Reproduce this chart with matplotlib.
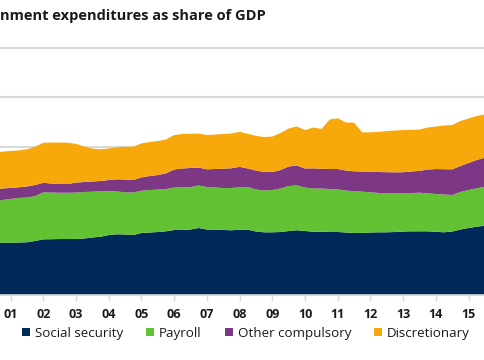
"""
stacked area chart of government expenditures as share of GDP, by component
"""
import numpy as np
import matplotlib.pyplot as plt
from matplotlib.patches import Patch

plt.rcParams['font.family'] = ['Open Sans', 'DejaVu Sans']

# quarterly observations, 2000 Q3 .. 2015 Q3 (percent of GDP)
quarters = np.arange(2000.5, 2015.51, 0.25)
social_security = [10.53, 10.59, 10.59, 10.63, 10.67, 10.93, 11.27, 11.29, 11.33, 11.33,
                   11.33, 11.44, 11.64, 11.80, 12.14, 12.29, 12.25, 12.14, 12.55, 12.65,
                   12.75, 12.89, 13.16, 13.16, 13.26, 13.56, 13.26, 13.22, 13.16, 13.10,
                   13.22, 13.22, 12.85, 12.69, 12.69, 12.75, 12.95, 13.10, 12.95, 12.81,
                   12.79, 12.75, 12.75, 12.65, 12.55, 12.59, 12.65, 12.69, 12.69, 12.75,
                   12.85, 12.89, 12.89, 12.89, 12.79, 12.69, 12.85, 13.26, 13.56, 13.83,
                   14.03]
payroll = [8.50, 8.64, 8.85, 9.01, 9.07, 9.11, 9.51, 9.45, 9.37, 9.37,
           9.41, 9.41, 9.27, 9.19, 8.91, 8.66, 8.54, 8.60, 8.56, 8.60,
           8.60, 8.56, 8.60, 8.64, 8.60, 8.60, 8.60, 8.54, 8.50, 8.56,
           8.58, 8.64, 8.50, 8.46, 8.56, 8.80, 9.11, 9.07, 8.80, 8.74,
           8.76, 8.70, 8.60, 8.50, 8.44, 8.32, 8.14, 7.96, 7.89, 7.83,
           7.73, 7.75, 7.81, 7.69, 7.65, 7.65, 7.39, 7.59, 7.69, 7.77,
           7.89]
other_compulsory = [2.23, 2.33, 2.23, 2.17, 2.23, 2.23, 1.94, 1.82, 1.76, 1.76,
                    2.02, 2.02, 2.06, 2.08, 2.23, 2.47, 2.59, 2.53, 2.71, 2.83,
                    2.94, 3.18, 3.64, 3.81, 3.85, 3.64, 3.58, 3.74, 3.91, 3.99,
                    4.15, 3.74, 3.85, 3.74, 3.64, 3.74, 3.95, 4.05, 3.85, 4.09,
                    3.99, 4.05, 4.15, 4.05, 4.05, 4.09, 4.17, 4.25, 4.27, 4.25,
                    4.27, 4.35, 4.43, 4.82, 5.06, 5.12, 5.20, 5.26, 5.47, 5.73,
                    5.91]
discretionary = [7.59, 7.45, 7.49, 7.45, 7.53, 7.75, 8.10, 8.30, 8.40, 8.36,
                 7.83, 7.19, 6.68, 6.42, 6.38, 6.48, 6.64, 6.74, 6.88, 6.88,
                 6.88, 6.84, 6.98, 6.98, 6.92, 6.88, 6.94, 6.98, 7.02, 7.04,
                 7.10, 7.02, 7.02, 7.08, 7.19, 7.49, 7.69, 7.89, 7.79, 8.26,
                 8.06, 10.02, 10.26, 9.72, 9.84, 7.89, 7.98, 8.14, 8.34, 8.46,
                 8.54, 8.44, 8.36, 8.50, 8.60, 8.85, 8.97, 9.11, 9.01, 8.91,
                 8.74]

labels = ["Social security", "Payroll", "Other compulsory", "Discretionary"]
colors = ["#00295A", "#63C233", "#7C3884", "#F7A80A"]
years = np.arange(2001, 2016)
year_labels = [f"{y % 100:02d}" for y in years]
title = "nment expenditures as share of GDP"   # left part is cropped in the source


def main():
    fig = plt.figure(figsize=(4.85, 3.6), dpi=100)
    ax = fig.add_axes([0.0, 0.1806, 1.0, 0.6861])

    ax.stackplot(quarters, social_security, payroll, other_compulsory, discretionary,
                 colors=colors, linewidth=0, zorder=2)

    ax.set_xlim(2000.675, 2015.5)
    ax.set_ylim(0, 50)
    ax.set_yticks(np.arange(0, 51, 10))
    ax.yaxis.grid(True, color='#D9D9D9', linewidth=1.5, zorder=0)
    ax.set_axisbelow(True)
    for line in ax.get_ygridlines():
        line.set_clip_on(False)
    ax.tick_params(axis='y', left=False, labelleft=False)

    for side in ['top', 'right', 'left']:
        ax.spines[side].set_visible(False)
    ax.spines['bottom'].set_color('#D9D9D9')
    ax.spines['bottom'].set_linewidth(1.2)
    ax.spines['bottom'].set_zorder(3)

    ax.set_xticks(years)
    ax.set_xticklabels(year_labels)
    ax.tick_params(axis='x', length=4, width=1, color='#D9D9D9', pad=5.5,
                   labelsize=9, labelcolor='#1a1a1a')
    for lbl in ax.get_xticklabels():
        lbl.set_fontweight('bold')

    fig.text(0.0, 1 - 16 / 360, title, ha='left', va='center',
             fontsize=10.5, fontweight='bold', color='#1a1a1a')

    handles = [Patch(facecolor=c, edgecolor='none') for c in colors]
    fig.legend(handles, labels, loc='center', bbox_to_anchor=(246 / 485, 1 - 333 / 360),
               ncol=4, frameon=False, fontsize=9.6, handlelength=0.6, handleheight=0.6,
               handletextpad=0.35, columnspacing=1.75, borderaxespad=0,
               labelcolor='#1a1a1a')

    fig.savefig("out.png", dpi=100)


if __name__ == "__main__":
    main()
